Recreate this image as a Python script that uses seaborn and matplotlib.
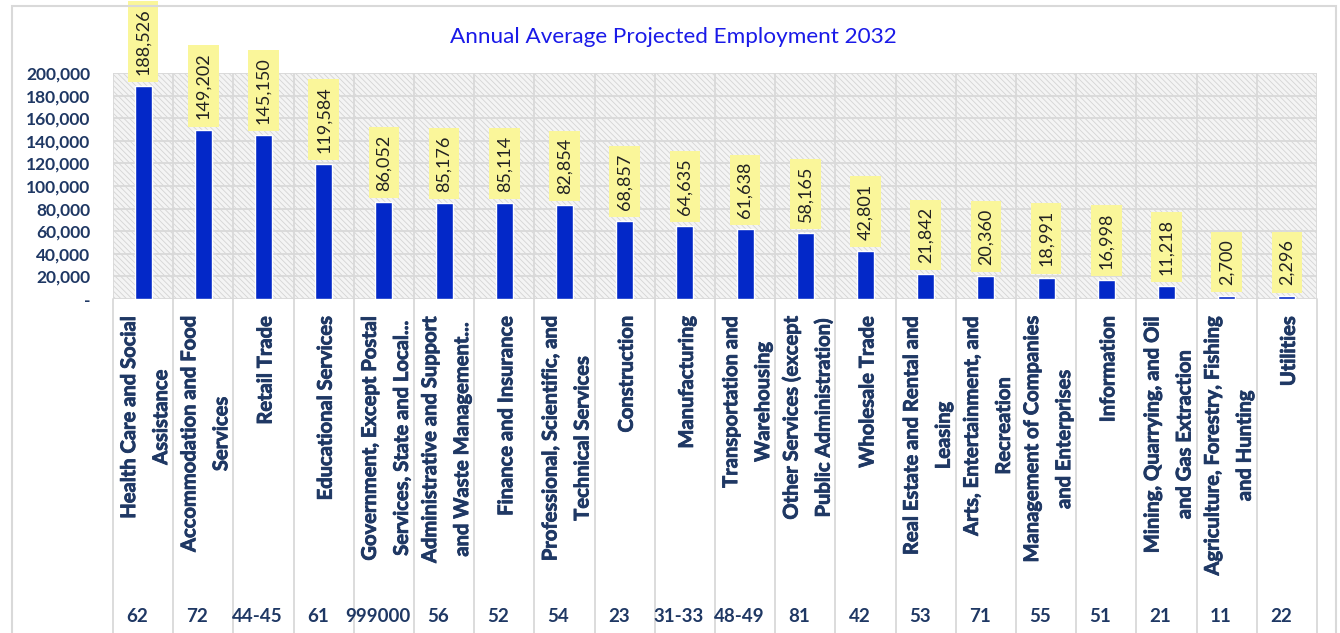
import numpy as np
import pandas as pd
import matplotlib
matplotlib.use("Agg")
import matplotlib.pyplot as plt
import matplotlib.transforms as mtransforms
import matplotlib.patheffects as pe
from matplotlib.lines import Line2D
from matplotlib.patches import Rectangle
import seaborn as sns

# ---------- DATA ----------
industries = [
    "Health Care and Social\nAssistance",
    "Accommodation and Food\nServices",
    "Retail Trade",
    "Educational Services",
    "Government, Except Postal\nServices, State and Local...",
    "Administrative and Support\nand Waste Management...",
    "Finance and Insurance",
    "Professional, Scientific, and\nTechnical Services",
    "Construction",
    "Manufacturing",
    "Transportation and\nWarehousing",
    "Other Services (except\nPublic Administration)",
    "Wholesale Trade",
    "Real Estate and Rental and\nLeasing",
    "Arts, Entertainment, and\nRecreation",
    "Management of Companies\nand Enterprises",
    "Information",
    "Mining, Quarrying, and Oil\nand Gas Extraction",
    "Agriculture, Forestry, Fishing\nand Hunting",
    "Utilities",
]
naics_codes = ["62", "72", "44-45", "61", "999000", "56", "52", "54", "23", "31-33",
               "48-49", "81", "42", "53", "71", "55", "51", "21", "11", "22"]
employment_2032 = [188526, 149202, 145150, 119584, 86052, 85176, 85114, 82854, 68857, 64635,
                   61638, 58165, 42801, 21842, 20360, 18991, 16998, 11218, 2700, 2296]
y_ticks = list(range(0, 200001, 20000))

TITLE = "Annual Average Projected Employment 2032"

# ---------- STYLE ----------
NAVY = "#1F3864"
BAR_BLUE = "#0328C8"
LABEL_YELLOW = "#FAF69A"
GRID_GREY = "#D9D9D9"

sns.set_theme(style="white")
plt.rcParams["font.family"] = ["Lato", "DejaVu Sans"]
plt.rcParams["hatch.linewidth"] = 0.6

W, H = 1340, 633


def main():
    df = pd.DataFrame({"industry": industries, "code": naics_codes, "employment": employment_2032})
    n = len(df)

    fig = plt.figure(figsize=(W / 100, H / 100), dpi=100)
    ax = fig.add_axes([113 / W, 1 - 299 / H, (1317 - 113) / W, (299 - 73) / H])

    # hatched plot area like the Excel chart
    ax.add_patch(Rectangle((0, 0), 1, 1, transform=ax.transAxes, facecolor="#F4F4F4",
                           edgecolor="#D4D4D4", hatch="\\" * 6, lw=0, zorder=0))

    sns.barplot(data=df, x="industry", y="employment", color=BAR_BLUE, width=0.28,
                saturation=1, errorbar=None, ax=ax, zorder=2)

    ax.set_xlim(-0.5, n - 0.5)
    ax.set_ylim(0, 200000)
    ax.set_xlabel("")
    ax.set_ylabel("")
    for s in ax.spines.values():
        s.set_visible(False)

    # grid: horizontal at ticks, vertical at category boundaries
    ax.set_yticks(y_ticks, labels=["-" if v == 0 else f"{v:,}" for v in y_ticks])
    ax.set_xticks(np.arange(-0.5, n, 1), minor=True)
    ax.set_xticks(range(n), labels=[""] * n)
    ax.tick_params(axis="y", length=0, pad=16.5)
    ax.tick_params(axis="x", which="both", length=0)
    plt.setp(ax.get_yticklabels(), fontweight="bold", fontsize=12.5, color=NAVY)
    ax.grid(axis="y", which="major", color=GRID_GREY, lw=1.3)
    ax.grid(axis="x", which="minor", color=GRID_GREY, lw=1.3)
    ax.grid(axis="x", which="major", visible=False)
    ax.set_axisbelow(True)

    # value labels on yellow boxes
    for i, v in enumerate(df["employment"]):
        ax.annotate(f"{v:,}", xy=(i, v), xytext=(0, 8), textcoords="offset points",
                    rotation=90, ha="center", va="bottom", fontsize=13, color="#222222",
                    bbox=dict(boxstyle="square,pad=0.4", fc=LABEL_YELLOW, ec="none"),
                    annotation_clip=False, zorder=5)

    # category labels, separators below the axis and NAICS code row
    trans = mtransforms.blended_transform_factory(ax.transData, fig.transFigure)
    heavier = [pe.withStroke(linewidth=0.6, foreground=NAVY)]
    label_trans = mtransforms.offset_copy(trans, fig=fig, x=2, y=0, units="dots")
    for i, name in enumerate(df["industry"]):
        ax.text(i, 1 - 316 / H, name, transform=label_trans, rotation=90, ha="center", va="top",
                multialignment="center", linespacing=1.75, fontsize=14.5, fontweight="bold",
                color=NAVY, clip_on=False, path_effects=heavier)
    for b in np.arange(-0.5, n, 1):
        ax.add_artist(Line2D([b, b], [0, 1 - 299 / H], transform=trans, color=GRID_GREY,
                             lw=1.3, clip_on=False))
    code_trans = mtransforms.offset_copy(trans, fig=fig, x=-6, y=0, units="dots")
    for i, code in enumerate(df["code"]):
        ax.text(i, 1 - 617 / H, code, transform=code_trans, ha="center", va="center",
                fontsize=13.5, fontweight="bold", color=NAVY, clip_on=False)

    fig.text(673 / W, 1 - 37 / H, TITLE, ha="center", va="center", fontsize=16.2, color="#1A1AE8")

    # outer chart border
    fig.add_artist(Rectangle((12 / W, -0.01), (1336 - 12) / W, 1 - 6 / H + 0.01,
                             transform=fig.transFigure, fill=False, edgecolor=GRID_GREY, lw=1.5))

    fig.savefig("out.png", dpi=100)
    plt.close(fig)


if __name__ == "__main__":
    main()
